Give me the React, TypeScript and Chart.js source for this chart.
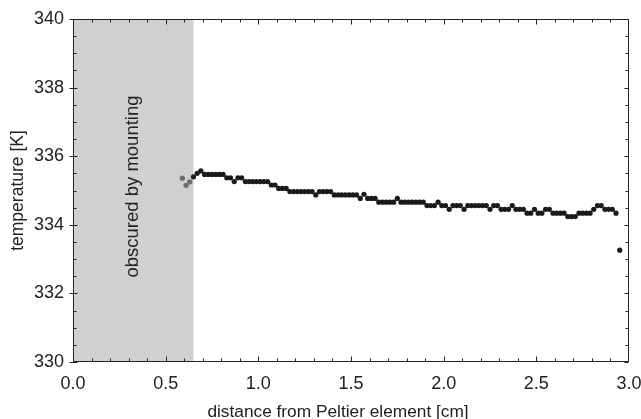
import React, { useEffect, useRef } from "react";
import { Chart, registerables } from "chart.js";

Chart.register(...registerables);

// Points hidden partially by the mounting (drawn grey)
const xMounted = [0.59, 0.61, 0.63];
const tMounted = [335.36, 335.15, 335.25];

// Measured temperature profile (black)
const xMeasured = [
  0.65, 0.67, 0.69,
  0.71, 0.73, 0.75, 0.77, 0.79, 0.81,
  0.83, 0.85, 0.87, 0.89, 0.91,
  0.93, 0.95, 0.97, 0.99, 1.01, 1.03, 1.05,
  1.07, 1.09, 1.11, 1.13, 1.15,
  1.17, 1.19, 1.21, 1.23, 1.25, 1.27, 1.29,
  1.31, 1.33, 1.35, 1.37, 1.39,
  1.41, 1.43, 1.45, 1.47, 1.49, 1.51, 1.53,
  1.55, 1.57, 1.59, 1.61, 1.63,
  1.65, 1.67, 1.69, 1.71, 1.73, 1.75,
  1.77, 1.79, 1.81, 1.83, 1.85, 1.87, 1.89,
  1.91, 1.93, 1.95, 1.97, 1.99, 2.01, 2.03,
  2.05, 2.07, 2.09, 2.11,
  2.13, 2.15, 2.17, 2.19, 2.21, 2.23, 2.25,
  2.27, 2.29, 2.31, 2.33, 2.35, 2.37,
  2.39, 2.41, 2.43, 2.45, 2.47, 2.49,
  2.51, 2.53, 2.55, 2.57,
  2.59, 2.61, 2.63, 2.65, 2.67, 2.69, 2.71,
  2.73, 2.75, 2.77, 2.79, 2.81, 2.83, 2.85,
  2.87, 2.89, 2.91, 2.93, 2.95,
];
const tMeasured = [
  335.40, 335.50, 335.57,
  335.47, 335.47, 335.47, 335.47, 335.47, 335.47,
  335.37, 335.37, 335.26, 335.37, 335.37,
  335.26, 335.26, 335.26, 335.26, 335.26, 335.26, 335.26,
  335.16, 335.16, 335.06, 335.06, 335.06,
  334.97, 334.97, 334.97, 334.97, 334.97, 334.97, 334.97,
  334.87, 334.97, 334.97, 334.97, 334.97,
  334.87, 334.87, 334.87, 334.87, 334.87, 334.87, 334.87,
  334.77, 334.89, 334.77, 334.77, 334.77,
  334.66, 334.66, 334.66, 334.66, 334.66, 334.77,
  334.66, 334.66, 334.66, 334.66, 334.66, 334.66, 334.66,
  334.56, 334.56, 334.56, 334.66, 334.56, 334.56, 334.45,
  334.56, 334.56, 334.56, 334.45,
  334.56, 334.56, 334.56, 334.56, 334.56, 334.56, 334.45,
  334.56, 334.56, 334.45, 334.45, 334.45, 334.56,
  334.45, 334.45, 334.45, 334.34, 334.34, 334.45,
  334.34, 334.34, 334.45, 334.45,
  334.34, 334.34, 334.34, 334.34, 334.24, 334.24, 334.24,
  334.34, 334.34, 334.34, 334.34, 334.45, 334.56, 334.56,
  334.45, 334.45, 334.45, 334.34, 333.26,
];

const xRange = [0, 3];
const yRange = [330, 340];
const xStep = 0.5;
const yStep = 2;
const xMinorStep = 0.1;
const yMinorStep = 0.5;
const shadeEnd = 0.65;
const obscuredLabel = "obscured by mounting";
const xTitle = "distance from Peltier element [cm]";
const yTitle = "temperature [K]";

const FONT = "'Liberation Sans', Arial, Helvetica, sans-serif";

const decorPlugin = {
  id: "decor",
  beforeDatasetsDraw(chart: any) {
    const { ctx, chartArea, scales } = chart;
    const xs = scales.x;
    ctx.save();
    const xe = xs.getPixelForValue(shadeEnd);
    ctx.fillStyle = "#d0d0d0";
    ctx.fillRect(chartArea.left, chartArea.top, xe - chartArea.left, chartArea.bottom - chartArea.top);
    ctx.translate(133, (chartArea.top + chartArea.bottom) / 2 - 4);
    ctx.rotate(-Math.PI / 2);
    ctx.fillStyle = "#222";
    ctx.font = "18.5px " + FONT;
    ctx.textAlign = "center";
    ctx.textBaseline = "middle";
    ctx.fillText(obscuredLabel, 0, 0);
    ctx.restore();
  },
  afterDraw(chart: any) {
    const { ctx, chartArea, scales } = chart;
    const { left, right, top, bottom } = chartArea;
    const xs = scales.x;
    const ys = scales.y;
    ctx.save();
    // x-axis title
    ctx.fillStyle = "#222";
    ctx.font = "17.3px " + FONT;
    ctx.textAlign = "center";
    ctx.textBaseline = "alphabetic";
    ctx.fillText(xTitle, 338, 416.5);

    ctx.strokeStyle = "#222";
    ctx.lineWidth = 1;
    ctx.beginPath();
    const L = Math.round(left) + 0.5;
    const R = Math.round(right) - 0.5;
    const T = Math.round(top) + 0.5;
    const B = Math.round(bottom) - 0.5;
    ctx.rect(L, T, R - L, B - T);
    // x ticks
    const nx = Math.round((xRange[1] - xRange[0]) / xMinorStep);
    for (let i = 1; i < nx; i++) {
      const v = xRange[0] + i * xMinorStep;
      const px = Math.round(xs.getPixelForValue(v)) + 0.5;
      const major = Math.abs(v / xStep - Math.round(v / xStep)) < 1e-6;
      const len = major ? 5 : 3;
      ctx.moveTo(px, B);
      ctx.lineTo(px, B - len);
      ctx.moveTo(px, T);
      ctx.lineTo(px, T + len);
    }
    // y ticks
    const ny = Math.round((yRange[1] - yRange[0]) / yMinorStep);
    for (let i = 0; i <= ny; i++) {
      const v = yRange[0] + i * yMinorStep;
      const py = Math.round(ys.getPixelForValue(v)) + 0.5;
      const major = Math.abs((v - yRange[0]) / yStep - Math.round((v - yRange[0]) / yStep)) < 1e-6;
      if (major) {
        ctx.moveTo(L - 4, py);
        ctx.lineTo(L + 4, py);
        ctx.moveTo(R, py);
        ctx.lineTo(R - 4, py);
      } else {
        ctx.moveTo(L, py);
        ctx.lineTo(L + 3, py);
        ctx.moveTo(R, py);
        ctx.lineTo(R - 3, py);
      }
    }
    ctx.stroke();
    ctx.restore();
  },
};

export default function App() {
  const ref = useRef<HTMLCanvasElement | null>(null);
  useEffect(() => {
    document.body.style.margin = "0";
    const canvas = ref.current;
    if (!canvas) return;
    const chart = new Chart(canvas, {
      type: "scatter",
      data: {
        datasets: [
          {
            label: "mounted",
            data: xMounted.map((x, i) => ({ x, y: tMounted[i] })),
            backgroundColor: "#6c6c6c",
            borderColor: "#6c6c6c",
            pointRadius: 2.6,
            borderWidth: 0,
          },
          {
            label: "measured",
            data: xMeasured.map((x, i) => ({ x, y: tMeasured[i] })),
            backgroundColor: "#1a1a1a",
            borderColor: "#1a1a1a",
            pointRadius: 2.6,
            borderWidth: 0,
          },
        ],
      },
      options: {
        responsive: false,
        animation: false,
        events: [],
        layout: { padding: { top: 19, right: 12, left: 0, bottom: 0 } },
        plugins: { legend: { display: false }, tooltip: { enabled: false } },
        scales: {
          x: {
            type: "linear",
            min: xRange[0],
            max: xRange[1],
            grid: { display: false, drawTicks: false },
            border: { display: false },
            ticks: {
              stepSize: xStep,
              padding: 11,
              color: "#222",
              font: { family: FONT, size: 18 },
              maxRotation: 0,
              callback: (v: any) => Number(v).toFixed(1),
            },
            title: { display: false },
            afterFit: (s: any) => {
              s.height = 57;
              s.paddingLeft = 0;
              s.paddingRight = 0;
            },
          },
          y: {
            type: "linear",
            min: yRange[0],
            max: yRange[1],
            grid: { display: false, drawTicks: false },
            border: { display: false },
            ticks: {
              stepSize: yStep,
              padding: 9,
              color: "#222",
              font: { family: FONT, size: 18 },
              callback: (v: any) => String(v),
            },
            title: {
              display: true,
              text: yTitle,
              color: "#222",
              font: { family: FONT, size: 17.5, lineHeight: 1 },
              padding: { top: 9, bottom: 0 },
            },
            afterFit: (s: any) => {
              s.width = 73;
              s.paddingTop = 0;
              s.paddingBottom = 0;
            },
          },
        },
      },
      plugins: [decorPlugin],
    } as any);
    return () => chart.destroy();
  }, []);
  return (
    <div style={{ width: 641, height: 419, background: "#fff" }}>
      <canvas ref={ref} width={641} height={419} style={{ display: "block" }} />
    </div>
  );
}
